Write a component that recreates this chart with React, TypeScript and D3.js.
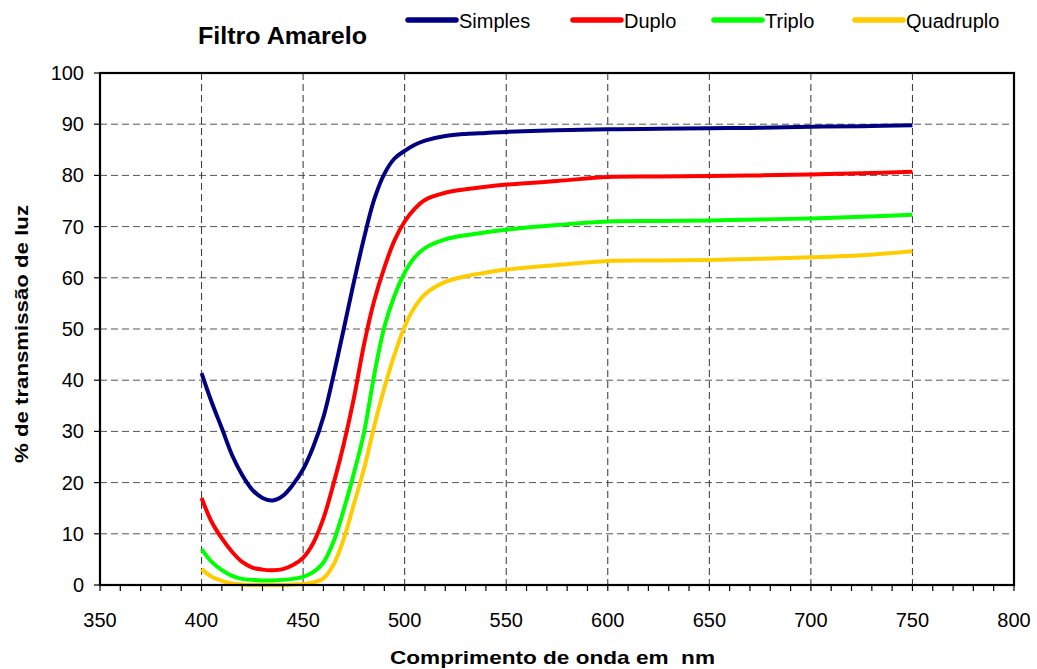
import React from "react";
import * as d3 from "d3";

const wavelengths = [400, 405, 410, 415, 420, 425, 430, 435, 440, 445, 450, 455, 460, 465, 470, 475, 480, 485, 490, 495, 500, 505, 510, 520, 530, 540, 550, 575, 600, 625, 650, 675, 700, 725, 750];
const simples = [41.4, 35.7, 30.6, 25.4, 21.5, 18.6, 17, 16.5, 17.4, 19.6, 22.6, 27, 32.8, 41, 50, 59.2, 67.8, 75.3, 80.3, 83.3, 84.8, 86, 86.8, 87.7, 88.1, 88.3, 88.5, 88.8, 89.0, 89.1, 89.2, 89.3, 89.5, 89.6, 89.8];
const duplo = [17, 12.3, 9.1, 6.5, 4.5, 3.4, 3.0, 2.9, 3.1, 3.9, 5.3, 8.2, 13, 19.8, 27.5, 36.5, 47, 55.5, 62, 67.3, 71, 73.5, 75.2, 76.6, 77.3, 77.8, 78.2, 78.9, 79.7, 79.8, 79.9, 80.0, 80.2, 80.4, 80.7];
const triplo = [7, 4.5, 2.9, 1.8, 1.2, 1.0, 0.9, 0.9, 1.0, 1.2, 1.6, 2.5, 4.4, 8.5, 14.7, 21.8, 29.8, 41, 50.4, 56.5, 61, 64, 65.8, 67.5, 68.3, 68.9, 69.4, 70.3, 71.0, 71.1, 71.2, 71.4, 71.6, 71.9, 72.3];
const quadruplo = [3.1, 1.6, 0.8, 0.3, 0.1, 0, 0, 0, 0, 0.1, 0.2, 0.5, 1.3, 4, 9, 15.8, 22.7, 31, 38.5, 45, 50.5, 54.3, 56.8, 59.2, 60.3, 61, 61.6, 62.5, 63.3, 63.4, 63.5, 63.7, 64.0, 64.4, 65.2];

const seriesNames = ["Simples", "Duplo", "Triplo", "Quadruplo"];
const seriesColors = ["#000080", "#FF0000", "#00FF00", "#FFCC00"];
const seriesValues = [simples, duplo, triplo, quadruplo];

const xTicks = [350, 400, 450, 500, 550, 600, 650, 700, 750, 800];
const yTicks = [0, 10, 20, 30, 40, 50, 60, 70, 80, 90, 100];

const W = 1037;
const H = 669;
const L = 100, R = 1014, T = 73, B = 585;

export default function App() {
  const x = d3.scaleLinear().domain([350, 800]).range([L, R]);
  const y = d3.scaleLinear().domain([0, 100]).range([B, T]);
  const line = d3
    .line<number>()
    .x((_, i) => x(wavelengths[i]))
    .y((d) => y(d))
    .curve(d3.curveCatmullRom.alpha(0.5));
  const minor = d3.range(350, 801, 10);
  const font = "Arial, 'Liberation Sans', sans-serif";
  const legendX = [408, 573, 714, 855];

  return (
    <svg width={W} height={H} style={{ position: "absolute", left: 0, top: 0, background: "#fff" }} fontFamily={font}>
      <rect x={0} y={0} width={W} height={H} fill="#fff" />
      {/* grid */}
      {yTicks.filter((t) => t > 0 && t < 100).map((t) => (
        <line key={"gy" + t} x1={L} x2={R} y1={y(t)} y2={y(t)} stroke="#555" strokeWidth={1} strokeDasharray="7,4" />
      ))}
      {xTicks.filter((t) => t > 350 && t < 800).map((t) => (
        <line key={"gx" + t} x1={x(t)} x2={x(t)} y1={T} y2={B} stroke="#333" strokeWidth={1} strokeDasharray="7,4" />
      ))}
      {/* series */}
      {seriesValues.map((vals, i) => (
        <path key={seriesNames[i]} d={line(vals) || ""} fill="none" stroke={seriesColors[i]} strokeWidth={4} strokeLinejoin="round" />
      ))}
      {/* frame */}
      <rect x={L} y={T} width={R - L} height={B - T} fill="none" stroke="#000" strokeWidth={2.2} />
      {/* x ticks */}
      {minor.map((t) => (
        <line key={"mx" + t} x1={x(t)} x2={x(t)} y1={B} y2={B + 6} stroke="#000" strokeWidth={1.2} />
      ))}
      {xTicks.map((t) => (
        <text key={"tx" + t} x={x(t)} y={627} textAnchor="middle" fontSize={20} fill="#000">{t}</text>
      ))}
      {/* y ticks */}
      {yTicks.map((t) => (
        <g key={"ty" + t}>
          <line x1={L - 6} x2={L} y1={y(t)} y2={y(t)} stroke="#000" strokeWidth={1.2} />
          <text x={84} y={y(t) + 7} textAnchor="end" fontSize={20} fill="#000">{t}</text>
        </g>
      ))}
      {/* titles */}
      <text x={198} y={44} fontSize={23} fontWeight="bold" textLength={169} lengthAdjust="spacingAndGlyphs">Filtro Amarelo</text>
      <text x={390} y={664} fontSize={19} fontWeight="bold" textLength={325} lengthAdjust="spacingAndGlyphs" style={{ whiteSpace: "pre" }}>Comprimento de onda em  nm</text>
      <text transform={`translate(28,${334}) rotate(-90)`} textAnchor="middle" fontSize={19} fontWeight="bold" textLength={258} lengthAdjust="spacingAndGlyphs">% de transmissão de luz</text>
      {/* legend */}
      {seriesNames.map((n, i) => (
        <g key={"lg" + n}>
          <line x1={legendX[i]} x2={legendX[i] + 48} y1={20} y2={20} stroke={seriesColors[i]} strokeWidth={5.5} strokeLinecap="round" />
          <text x={legendX[i] + 51} y={28} fontSize={20} fill="#000">{n}</text>
        </g>
      ))}
    </svg>
  );
}
